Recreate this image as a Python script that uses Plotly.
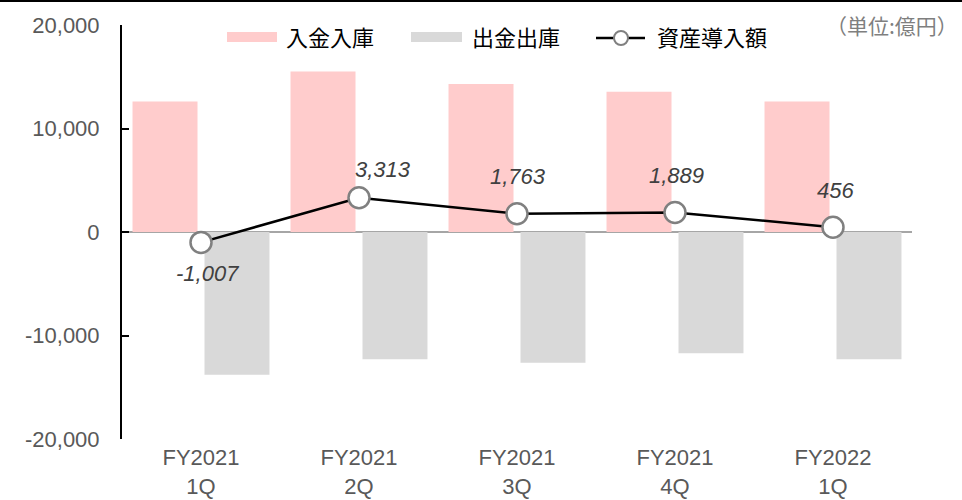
import plotly.graph_objects as go

categories = ["FY2021<br>1Q", "FY2021<br>2Q", "FY2021<br>3Q", "FY2021<br>4Q", "FY2022<br>1Q"]
inflow = [12600, 15500, 14300, 13550, 12600]
outflow = [-13800, -12290, -12640, -11710, -12290]
net = [-1007, 3313, 1763, 1889, 456]
y_ticks = [-20000, -10000, 0, 10000, 20000]
y_tick_labels = ["-20,000", "-10,000", "0", "10,000", "20,000"]

# label nudges (px) for the net-value labels
label_dx = [6, 24, 1, 1, 2]
label_dy = [-31, 28, 37, 37, 37]

PINK = "#ffcccc"
GRAY = "#d9d9d9"
TICK_FONT = dict(family="Liberation Sans, Arial, sans-serif", size=22, color="#595959")
CJK = "Noto Sans CJK JP, sans-serif"

fig = go.Figure()
fig.add_trace(go.Bar(x=categories, y=inflow, name="入金入庫", marker=dict(color=PINK, line=dict(width=0))))
fig.add_trace(go.Bar(x=categories, y=outflow, name="出金出庫", marker=dict(color=GRAY, line=dict(width=0))))
fig.add_trace(go.Scatter(
    x=categories, y=net, name="資産導入額", mode="lines+markers",
    line=dict(color="black", width=2.5),
    marker=dict(symbol="circle", size=21, color="white", line=dict(color="#808080", width=2.5)),
    cliponaxis=False,
))

annotations = []
for c, v, dx, dy in zip(categories, net, label_dx, label_dy):
    annotations.append(dict(
        x=c, y=v, xref="x", yref="y", text=f"{v:,}", showarrow=False,
        xshift=dx, yshift=dy, xanchor="center", yanchor="middle",
        font=dict(family="Liberation Sans, Arial, sans-serif", size=22, color="#404040", style="italic"),
    ))

# plot-area geometry in px (for the custom legend)
L, R, T, B = 122, 912, 25, 439
W, H = R - L, B - T
def px(xp):
    return (xp - L) / W
def py(yp):
    return (B - yp) / H

shapes = [
    # top rule
    dict(type="line", xref="paper", yref="paper", x0=px(0), x1=px(962), y0=py(1), y1=py(1),
         line=dict(color="black", width=2)),
    # legend swatches
    dict(type="rect", xref="paper", yref="paper", x0=px(227), x1=px(277), y0=py(42), y1=py(32),
         fillcolor=PINK, line=dict(width=0)),
    dict(type="rect", xref="paper", yref="paper", x0=px(411), x1=px(462), y0=py(42), y1=py(32),
         fillcolor=GRAY, line=dict(width=0)),
    dict(type="line", xref="paper", yref="paper", x0=px(596), x1=px(645), y0=py(38), y1=py(38),
         line=dict(color="black", width=2.5)),
    dict(type="circle", xref="paper", yref="paper", xsizemode="pixel", ysizemode="pixel",
         xanchor=px(621), yanchor=py(38), x0=-7, x1=7, y0=-7, y1=7,
         fillcolor="white", line=dict(color="#808080", width=2)),
]
legend_texts = [("入金入庫", 284), ("出金出庫", 470), ("資産導入額", 655)]
for t, x0 in legend_texts:
    annotations.append(dict(x=px(x0), y=py(36), xref="paper", yref="paper", text=t, showarrow=False,
                            xanchor="left", yanchor="middle",
                            font=dict(family=CJK, size=22, color="black")))
annotations.append(dict(x=px(960), y=py(25), xref="paper", yref="paper", text="（単位:億円）",
                        showarrow=False, xanchor="right", yanchor="middle",
                        font=dict(family=CJK, size=21, color="#7f7f7f")))

fig.update_layout(
    width=962, height=500,
    margin=dict(l=L, r=962 - R, t=T, b=500 - B, autoexpand=False),
    paper_bgcolor="white", plot_bgcolor="white",
    barmode="group", bargap=0.089, bargroupgap=0.097,
    showlegend=False,
    shapes=shapes, annotations=annotations,
    xaxis=dict(type="category", showline=False, showgrid=False, ticks="",
               tickfont=TICK_FONT, ticklabelstandoff=3),
    yaxis=dict(range=[-20000, 20000], tickvals=y_ticks, ticktext=y_tick_labels,
               showgrid=False, showline=True, linecolor="black", linewidth=2,
               ticks="inside", ticklen=7, tickwidth=2, tickcolor="black",
               zeroline=True, zerolinecolor="#a6a6a6", zerolinewidth=2,
               tickfont=TICK_FONT, ticklabelstandoff=16),
)

fig.write_html(
    "out.html",
    config={"displayModeBar": False},
    post_script="document.body.style.margin='0';document.body.style.overflow='hidden';",
)
